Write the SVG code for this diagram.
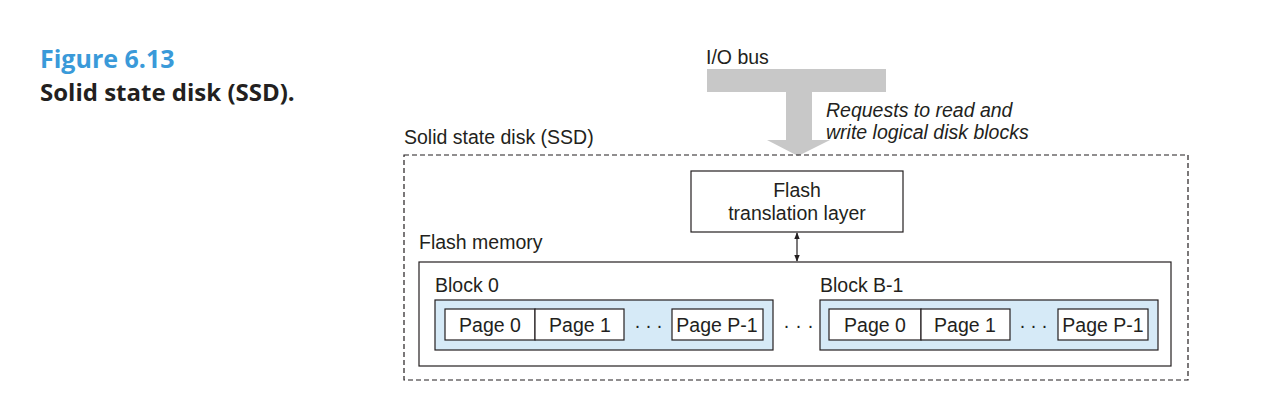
<svg xmlns="http://www.w3.org/2000/svg" width="1282" height="412" viewBox="0 0 1282 412">
<defs>
<style>
.t{font-family:"Liberation Sans",Arial,sans-serif;font-size:19.5px;fill:#231f20}
.it{font-style:italic}
.box{fill:#fff;stroke:#231f20;stroke-width:1.2}
.blk{fill:#d6eaf7;stroke:#231f20;stroke-width:1.2}
.pg{fill:#fff;stroke:#231f20;stroke-width:1.2}
.dots{font-family:"Liberation Sans",Arial,sans-serif;font-size:19.5px;fill:#231f20}
.cap{font-family:"Open Sans","Lato",sans-serif;font-weight:700}
</style>
<marker id="ah" viewBox="0 0 10 10" refX="9" refY="5" markerWidth="7" markerHeight="7" orient="auto-start-reverse" markerUnits="userSpaceOnUse"><path d="M0,1 L10,5 L0,9 Z" fill="#231f20"/></marker>
</defs>
<rect width="1282" height="412" fill="#fff"/>
<g id="caption">
<text class="cap" x="40" y="68" font-size="25" fill="#3a9ad9">Figure 6.13</text>
<text class="cap" x="40" y="101" font-size="24" fill="#231f20">Solid state disk (SSD).</text>
</g>
<g id="iobus">
<text class="t" x="706" y="64">I/O bus</text>
<rect x="707" y="69" width="179" height="23" fill="#c8c8c8"/>
<polygon points="786,92 812,92 812,140 830,140 798,156 767,140 786,140" fill="#c8c8c8"/>
<text class="t it" x="826" y="117">Requests to read and</text>
<text class="t it" x="826" y="139">write logical disk blocks</text>
</g>
<g id="ssd">
<text class="t" x="404" y="144">Solid state disk (SSD)</text>
<rect x="404" y="155" width="784" height="225" fill="none" stroke="#231f20" stroke-width="1.2" stroke-dasharray="5,3"/>
</g>
<g id="ftl">
<rect class="box" x="691" y="171" width="212" height="61"/>
<text class="t" x="797" y="197" text-anchor="middle">Flash</text>
<text class="t" x="797" y="220" text-anchor="middle">translation layer</text>
</g>
<g id="connectors">
<line x1="797" y1="233" x2="797" y2="261" stroke="#231f20" stroke-width="1.2" marker-start="url(#ah)" marker-end="url(#ah)"/>
</g>
<g id="flashmem">
<text class="t" x="419" y="249">Flash memory</text>
<rect class="box" x="419" y="262" width="752" height="104"/>
<text class="dots" x="783.3 795.3 807.3" y="332">···</text>
</g>
<g id="block0">
<text class="t" x="435" y="292">Block 0</text>
<rect class="blk" x="435" y="300" width="338" height="50"/>
<rect class="pg" x="445" y="309" width="90" height="31"/>
<rect class="pg" x="535" y="309" width="89" height="31"/>
<rect class="pg" x="672" y="309" width="91" height="31"/>
<text class="t" x="490" y="332" text-anchor="middle">Page 0</text>
<text class="t" x="580" y="332" text-anchor="middle">Page 1</text>
<text class="dots" x="634.3 645.3 656.3" y="332">···</text>
<text class="t" x="717" y="332" text-anchor="middle">Page P-1</text>
</g>
<g id="blockB1">
<text class="t" x="820" y="292">Block B-1</text>
<rect class="blk" x="820" y="300" width="338" height="50"/>
<rect class="pg" x="829" y="309" width="92" height="31"/>
<rect class="pg" x="921" y="309" width="89" height="31"/>
<rect class="pg" x="1058" y="309" width="90" height="31"/>
<text class="t" x="875" y="332" text-anchor="middle">Page 0</text>
<text class="t" x="965" y="332" text-anchor="middle">Page 1</text>
<text class="dots" x="1019.3 1030.3 1041.3" y="332">···</text>
<text class="t" x="1103" y="332" text-anchor="middle">Page P-1</text>
</g>
</svg>
